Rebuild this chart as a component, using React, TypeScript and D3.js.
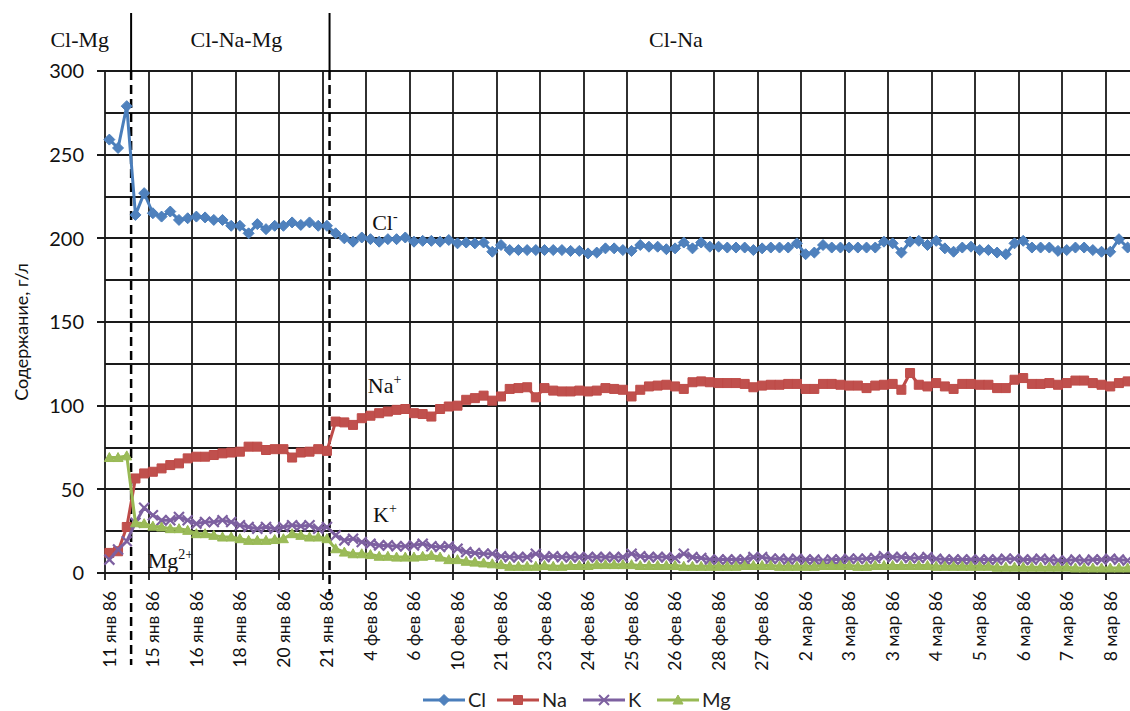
import { useRef, useEffect } from "react";
import * as d3 from "d3";

// x-axis: one label every 5 samples
const tickLabels = [
  "11 янв 86", "15 янв 86", "16 янв 86", "18 янв 86", "20 янв 86", "21 янв 86",
  "4 фев 86", "6 фев 86", "10 фев 86", "21 фев 86", "23 фев 86", "24 фев 86",
  "25 фев 86", "26 фев 86", "28 фев 86", "27 фев 86", "2 мар 86", "3 мар 86",
  "3 мар 86", "4 мар 86", "5 мар 86", "6 мар 86", "7 мар 86", "8 мар 86",
];
const labelStep = 5;

const yMajor = [0, 50, 100, 150, 200, 250, 300];
const yMinor = [25, 75, 125, 175, 225, 275];

// g/l, one value per sample
const cl = [
  259, 254, 279, 214, 227, 215, 213, 216, 211, 212, 213, 212.5, 211, 211, 207.5, 207.5, 203, 208.5, 205.5, 207.5, 207.5, 209.5, 208, 209.5, 207.5, 207.5,
  203, 200, 198, 200.5, 199.5, 198, 199.5, 199.5, 200.5, 198, 198.5, 198.5, 198, 199, 197, 197.5, 197, 197.5,
  192, 196, 193, 193, 193, 193, 193, 193, 193, 192.5, 192.5, 191, 191.5, 194, 194, 193, 192.5, 196, 195, 195, 193.5, 194, 197.5, 194, 197.5, 195, 195,
  194.5, 194.5, 194.5, 193, 194, 194.5, 194.5, 194.5, 197, 190.5, 191.5, 196, 194.5, 194.5, 194.5, 194.5, 194.5, 194.5, 198, 197, 191.5, 198, 198.5, 196,
  198.5, 194, 192, 194.5, 195, 193, 193, 191.5, 190.5, 197, 198.5, 194.5, 194.5, 194.5, 192.5, 193, 194.5, 194.5, 193, 192, 192, 199.5, 194.5,
];
const na = [
  12, 13, 27.5, 56.5, 59.5, 60.5, 62.5, 64.5, 65.5, 68.5, 69.5, 69.5, 70.5, 71.5, 72, 72.5, 75.5, 75.5, 73.5, 74, 74, 69, 72, 72.5, 74, 73,
  90.5, 90, 88.5, 92.5, 94, 95.5, 96.5, 97.5, 98, 95.5, 95, 93.5, 98, 99.5, 100, 103.5, 104.5, 106, 103, 105.5, 110, 110.5, 111, 105, 110.5, 109,
  108.5, 108.5, 109, 108.5, 109, 110.5, 110, 109.5, 105.5, 109.5, 111.5, 112, 112.5, 111.5, 110, 114, 114.5, 114, 113.5,
  113.5, 113.5, 113, 111, 112, 112.5, 112.5, 113, 113, 110, 110, 113, 113, 112.5, 112, 112, 110.5, 112, 112.5, 113, 109.5, 119.5, 112.5, 111.5,
  113.5, 111.5, 110, 113, 113, 112.5, 112.5, 110.5, 110.5, 115.5, 116.5, 113, 113, 113.5, 112.5, 113.5, 115, 115, 113.5, 112.5, 111.5, 113.5, 114.5,
];
const k = [
  8, 14, 19, 30, 39, 34.5, 31.5, 31.5, 33.5, 31.5, 29.5, 30.5, 30.5, 31.5, 30.5, 28.5, 27.5, 26.5, 27.5, 26.5, 27.5, 28.5, 28, 28.5, 26.5, 27.5,
  22.5, 19.5, 20.5, 18.5, 17.5, 16.5, 16.5, 16, 16, 16.5, 17.5, 16, 15.5, 16, 14.5, 12.5, 12, 11.5, 11.5, 10, 9.5, 9.5, 9.5, 11.5, 9.5, 10,
  9.5, 9.5, 9.5, 9.5, 9.5, 9.5, 9.5, 9.5, 11.5, 10, 9.5, 9.5, 9.5, 9, 11.5, 9.5, 9, 8, 8, 8, 8,
  8, 9.5, 9.5, 8.5, 8.5, 8, 8.5, 8, 8, 7.5, 8, 8, 8.5, 8.5, 8.5, 9, 10, 9.5, 9.5, 9, 9, 9.5, 8.5,
  8, 8, 8, 8, 8, 8, 8, 8.5, 8.5, 8, 8, 8.5, 8, 7.5, 7.5, 8, 7.5, 8, 8, 8.5, 8, 7.5,
];
const mg = [
  69, 69, 70, 30, 29.5, 28, 27.5, 26.5, 26.5, 25.5, 23.5, 23.5, 22.5, 21.5, 21.5, 20.5, 19.5, 19.5, 19.5, 20, 20.5, 23.5, 22.5, 21.5, 21.5, 20.5,
  14.5, 12.5, 11.5, 11.5, 11, 10, 10, 9.5, 9.5, 9.5, 10, 10.5, 9.5, 8, 8, 7, 6.5, 6, 5.5, 5, 4, 4, 4, 4, 4.5, 4, 4,
  4.5, 4.5, 4.5, 5, 5, 5, 5, 5, 4.5, 4.5, 4.5, 4.5, 4.5, 4, 4, 4, 4, 4,
  4, 4, 4.5, 4.5, 4.5, 4.5, 4, 4, 4, 4, 4, 4.5, 4.5, 4.5, 4.5, 4, 4, 4.5, 4.5, 4.5, 4.5, 4.5, 4.5, 4.5,
  4, 4, 4, 4, 4, 4, 4, 3.5, 3.5, 3.5, 3.5, 3.5, 3.5, 3.5, 3.5, 3.5, 3, 3, 3, 3, 3, 3, 3,
];

type Marker = "diamond" | "square" | "x" | "triangle";
type Series = { name: string; values: number[]; line: string; fill: string; marker: Marker };

const series: Series[] = [
  { name: "Cl", values: cl, line: "#4A7EBB", fill: "#4F81BD", marker: "diamond" },
  { name: "Na", values: na, line: "#BE4B48", fill: "#C0504D", marker: "square" },
  { name: "K", values: k, line: "#7D60A0", fill: "#8064A2", marker: "x" },
  { name: "Mg", values: mg, line: "#98B954", fill: "#9BBB59", marker: "triangle" },
];

// zone boundaries, in sample units
const zoneBounds = [3, 25.8];
const zoneLabels = [
  { text: "Cl-Mg", at: -2.9 },
  { text: "Cl-Na-Mg", at: 15.1 },
  { text: "Cl-Na", at: 65.6 },
];
// ion labels: [main, superscript, sample position, value]
const ionLabels: [string, string, number, number][] = [
  ["Cl", "-", 30.7, 205],
  ["Na", "+", 30.2, 107.5],
  ["K", "+", 30.8, 30.5],
  ["Mg", "2+", 4.9, 3],
];

const markerPath = (m: Marker) => {
  if (m === "diamond") return "M0,-5.5L5.5,0L0,5.5L-5.5,0Z";
  if (m === "square") return "M-4.5,-4.5H4.5V4.5H-4.5Z";
  if (m === "x") return "M-5,-5L5,5M-5,5L5,-5";
  return "M0,-5L5,4H-5Z";
};

const App = () => {
  const svgRef = useRef<SVGSVGElement | null>(null);

  useEffect(() => {
    if (!svgRef.current) return;
    const svg = d3.select(svgRef.current);
    svg.selectAll("*").remove();

    const n = cl.length;
    const x = d3.scaleBand<number>().domain(d3.range(n)).range([105, 1132]);
    const y = d3.scaleLinear().domain([0, 300]).range([573, 71]);
    const cx = (i: number) => (x(i) ?? 0) + x.bandwidth() / 2;
    const at = (c: number) => x.range()[0] + c * x.step();
    const sans = "Lato, 'Open Sans', sans-serif";
    const serif = "'Liberation Serif', 'Times New Roman', serif";

    // grid
    const grid = svg.append("g").attr("stroke", "#1a1a1a").attr("stroke-width", 1.8);
    grid.selectAll("line.major").data(yMajor).enter().append("line")
      .attr("x1", 97).attr("x2", 1132).attr("y1", (d) => Math.round(y(d))).attr("y2", (d) => Math.round(y(d)));
    grid.selectAll("line.minor").data(yMinor).enter().append("line")
      .attr("x1", 105).attr("x2", 1132).attr("y1", (d) => Math.round(y(d))).attr("y2", (d) => Math.round(y(d)));
    const ticks = d3.range(0, n, labelStep);
    grid.selectAll("line.v").data(ticks).enter().append("line")
      .attr("x1", (d) => Math.round(x(d) ?? 0)).attr("x2", (d) => Math.round(x(d) ?? 0))
      .attr("y1", y(300)).attr("y2", y(0) + 7);

    // y axis labels
    svg.append("g").selectAll("text").data(yMajor).enter().append("text")
      .attr("x", 84).attr("y", (d) => y(d)).attr("dy", "0.36em")
      .attr("text-anchor", "end").style("font-family", sans).style("font-size", "20px")
      .style("fill", "#111").text((d) => d);

    svg.append("text")
      .attr("transform", `translate(28,${(y(0) + y(300)) / 2 + 10}) rotate(-90)`)
      .attr("text-anchor", "middle").style("font-family", sans).style("font-size", "18px")
      .style("fill", "#111").text("Содержание, г/л");

    // x axis labels
    svg.append("g").selectAll("text").data(ticks).enter().append("text")
      .attr("transform", (d) => `translate(${cx(d)},${y(0) + 18}) rotate(-90)`)
      .attr("dy", "0.36em").attr("text-anchor", "end")
      .style("font-family", sans).style("font-size", "17.5px").style("fill", "#111")
      .text((d, i) => tickLabels[i]);

    // zone dividers
    zoneBounds.forEach((b, i) => {
      svg.append("line").attr("x1", at(b)).attr("x2", at(b)).attr("y1", 13).attr("y2", y(300))
        .attr("stroke", "#000").attr("stroke-width", 2);
      svg.append("line").attr("x1", at(b)).attr("x2", at(b)).attr("y1", y(300))
        .attr("y2", i === 0 ? 665 : 595)
        .attr("stroke", "#000").attr("stroke-width", 2.5).attr("stroke-dasharray", "9,5");
    });
    svg.append("g").selectAll("text").data(zoneLabels).enter().append("text")
      .attr("x", (d) => at(d.at)).attr("y", 47).attr("text-anchor", "middle")
      .style("font-family", serif).style("font-size", "22px").style("fill", "#111")
      .text((d) => d.text);

    // series
    series.forEach((s) => {
      const line = d3.line<number>().x((d, i) => cx(i)).y((d) => y(d));
      svg.append("path").datum(s.values).attr("d", line)
        .attr("fill", "none").attr("stroke", s.line).attr("stroke-width", 3)
        .attr("stroke-linejoin", "round");
      svg.append("g").selectAll("path").data(s.values).enter().append("path")
        .attr("transform", (d, i) => `translate(${cx(i)},${y(d)})`)
        .attr("d", markerPath(s.marker))
        .attr("fill", s.marker === "x" ? "none" : s.fill)
        .attr("stroke", s.line).attr("stroke-width", s.marker === "x" ? 2.2 : 1);
    });

    // ion labels
    ionLabels.forEach(([main, sup, c, v]) => {
      const t = svg.append("text").attr("x", at(c)).attr("y", y(v))
        .style("font-family", serif).style("font-size", "22px").style("fill", "#111");
      t.append("tspan").text(main);
      t.append("tspan").attr("dy", -9).style("font-size", "14px").text(sup);
    });

    // legend
    const legendX = [423, 497, 583, 657];
    const lg = svg.append("g");
    series.forEach((s, i) => {
      const g = lg.append("g").attr("transform", `translate(${legendX[i]},700)`);
      g.append("line").attr("x1", 0).attr("x2", 42).attr("stroke", s.line).attr("stroke-width", 3);
      g.append("path").attr("transform", "translate(21,0)").attr("d", markerPath(s.marker))
        .attr("fill", s.marker === "x" ? "none" : s.fill)
        .attr("stroke", s.line).attr("stroke-width", s.marker === "x" ? 2 : 1);
      g.append("text").attr("x", 45).attr("dy", "0.34em")
        .style("font-family", sans).style("font-size", "20px").style("fill", "#222")
        .text(s.name);
    });
  }, []);

  return (
    <svg
      ref={svgRef}
      width={1130}
      height={711}
      style={{ position: "absolute", left: 0, top: 0, background: "#fff" }}
    ></svg>
  );
};

export default App;
